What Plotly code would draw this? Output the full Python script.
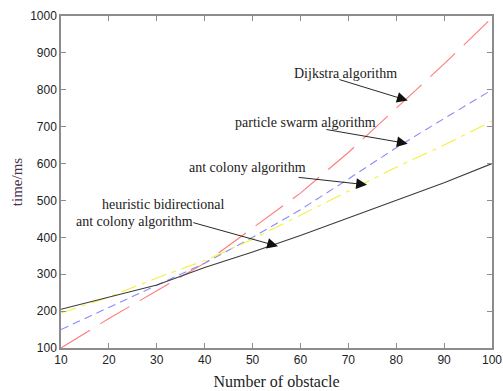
import numpy as np
import plotly.graph_objects as go

obstacles = [10, 20, 30, 40, 50, 60, 70, 80, 90, 100]
dijkstra = [100, 180, 255, 330, 425, 520, 630, 750, 870, 995]
pso = [150, 210, 268, 330, 400, 475, 558, 643, 722, 800]
aco = [195, 238, 290, 337, 395, 460, 525, 590, 650, 715]
hbaco = [205, 238, 271, 318, 360, 405, 452, 500, 548, 600]

x_ticks = [10, 20, 30, 40, 50, 60, 70, 80, 90, 100]
y_ticks = [100, 200, 300, 400, 500, 600, 700, 800, 900, 1000]

serif = "Liberation Serif"
sans = "Liberation Sans"

fig = go.Figure()
series = [
    ("Dijkstra algorithm", dijkstra, "#ff7a7a", "34px,12px"),
    ("particle swarm algorithm", pso, "#8a8aff", "8px,5px"),
    ("ant colony algorithm", aco, "#f4f03a", "16px,6px,4px,6px"),
    ("heuristic bidirectional ant colony algorithm", hbaco, "#3c3c3c", "solid"),
]
for name, ys, col, dash in series:
    fig.add_trace(go.Scatter(x=obstacles, y=ys, mode="lines", name=name,
                             line=dict(color=col, width=1.1, dash=dash)))

def at(series_vals, xv):
    return float(np.interp(xv, obstacles, series_vals))

labels = [
    ("Dijkstra algorithm", 69.5, 845),
    ("particle swarm algorithm", 61.1, 712),
    ("ant colony algorithm", 49.0, 588),
    ("heuristic bidirectional", 31.3, 490),
    ("ant colony algorithm", 25.4, 444),
]
for t, lx, ly in labels:
    fig.add_annotation(x=lx, y=ly, text=t, showarrow=False,
                       font=dict(family=serif, size=14, color="#222"))

arrows = [
    (dijkstra, 82.4, 67.8, 829),
    (pso, 82.4, 65.1, 693),
    (aco, 73.9, 59.3, 563),
    (hbaco, 55.3, 37.3, 441),
]
for s, hx, tx, ty in arrows:
    fig.add_annotation(x=hx, y=at(s, hx) - 8, ax=tx, ay=ty, axref="x", ayref="y",
                       text="", showarrow=True, arrowhead=2, arrowsize=2.4,
                       arrowwidth=0.9, arrowcolor="#111")

axis_common = dict(showline=True, linecolor="#8c8c8c", linewidth=1.5, mirror="ticks",
                   ticks="inside", ticklen=5, tickcolor="#8c8c8c", showgrid=False,
                   zeroline=False, automargin=False,
                   tickfont=dict(family=sans, size=12, color="#222"))
fig.update_xaxes(range=[10, 100], tickvals=x_ticks,
                 title=dict(text="Number of obstacle", font=dict(family=serif, size=16, color="#222"),
                            standoff=10), **axis_common)
fig.update_yaxes(range=[100, 1000], tickvals=y_ticks,
                 title=dict(text="time/ms", font=dict(family=serif, size=15, color="#4a3050"),
                            standoff=4), **axis_common)
fig.update_layout(width=503, height=391, margin=dict(l=61, r=11, t=16, b=43),
                  plot_bgcolor="white", paper_bgcolor="white", showlegend=False)
fig.write_html("out.html")
